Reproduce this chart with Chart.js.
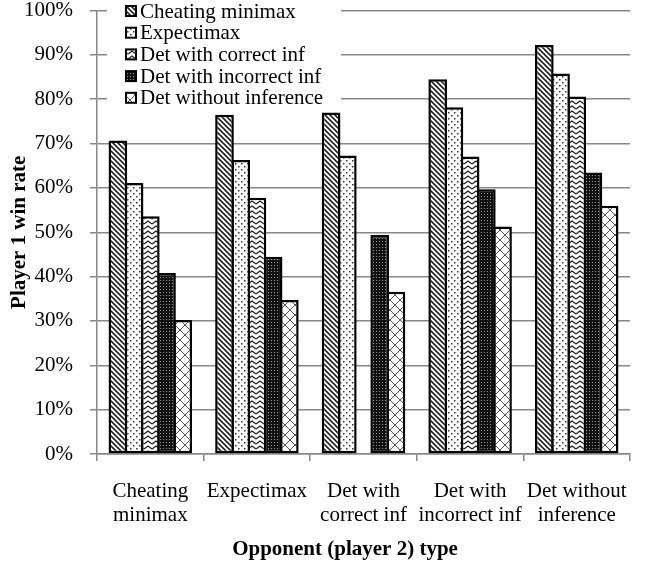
<!DOCTYPE html>
<html lang="en">
<head>
<meta charset="utf-8">
<title>Player 1 win rate</title>
<script src="https://cdn.jsdelivr.net/npm/chart.js@4.4.0/dist/chart.umd.min.js"></script>
<style>
body{margin:0;background:#fff}
canvas{display:block}
</style>
</head>
<body>
<canvas id="chart" width="647" height="563"></canvas>
<script>
/* data */
const opponents = [
  ['Cheating', 'minimax'],
  ['Expectimax'],
  ['Det with', 'correct inf'],
  ['Det with', 'incorrect inf'],
  ['Det without', 'inference']
];
const seriesNames = [
  'Cheating minimax',
  'Expectimax',
  'Det with correct inf',
  'Det with incorrect inf',
  'Det without inference'
];
const cheatingMinimax   = [70.7, 76.5, 77.0, 84.5, 92.2];
const expectimax        = [61.1, 66.3, 67.3, 78.2, 85.8];
const detCorrectInf     = [53.6, 57.8, null, 67.1, 80.6];
const detIncorrectInf   = [40.8, 44.5, 49.4, 59.7, 63.5];
const detWithoutInf     = [30.2, 34.7, 36.6, 51.3, 56.0];
const yTicks = [0,10,20,30,40,50,60,70,80,90,100];
const xTitle = 'Opponent (player 2) type';
const yTitle = 'Player 1 win rate';

const FONT = '"Liberation Serif", "Times New Roman", serif';

/* hatch patterns */
function tile(w,h,fn){
  const c=document.createElement('canvas');c.width=w;c.height=h;
  const g=c.getContext('2d');fn(g,w,h);
  return document.createElement('canvas').getContext('2d').createPattern(c,'repeat');
}
const patDiag = tile(5,5,(g,w,h)=>{
  g.fillStyle='#fff';g.fillRect(0,0,w,h);
  g.strokeStyle='#222';g.lineWidth=1.6;
  g.beginPath();
  g.moveTo(-1,-1);g.lineTo(w+1,h+1);
  g.moveTo(-1,h-1);g.lineTo(1,h+1);
  g.moveTo(w-1,-1);g.lineTo(w+1,1);
  g.stroke();
});
const patDots = tile(6,6,(g,w,h)=>{
  g.fillStyle='#fff';g.fillRect(0,0,w,h);
  g.fillStyle='#333';
  g.fillRect(1,1,1.5,1.5);g.fillRect(4,4,1.5,1.5);
});
const patZig = tile(8,5,(g,w,h)=>{
  g.fillStyle='#fff';g.fillRect(0,0,w,h);
  g.strokeStyle='#222';g.lineWidth=1.4;
  g.beginPath();g.moveTo(0,4);g.lineTo(4,1);g.lineTo(8,4);g.stroke();
});
const patGrid = tile(3,3,(g,w,h)=>{
  g.fillStyle='#111';g.fillRect(0,0,w,h);
  g.fillStyle='#9a9a9a';g.fillRect(1,1,1,1);
});
const patCross = tile(10,10,(g,w,h)=>{
  g.fillStyle='#fff';g.fillRect(0,0,w,h);
  g.strokeStyle='#555';g.lineWidth=1;
  g.beginPath();
  g.moveTo(0,0);g.lineTo(w,h);
  g.moveTo(w,0);g.lineTo(0,h);
  g.stroke();
});
const fills = [patDiag, patDots, patZig, patGrid, patCross];
const values = [cheatingMinimax, expectimax, detCorrectInf, detIncorrectInf, detWithoutInf];

/* legend inside plot (top-left) + x title offset like the original */
const boxLegend = {
  id:'boxLegend',
  afterDraw(chart){
    const ctx=chart.ctx;
    ctx.save();
    ctx.fillStyle='#fff';
    ctx.fillRect(107,0,234,108);
    ctx.font='21px '+FONT;
    ctx.textBaseline='middle';
    chart.data.datasets.forEach((ds,i)=>{
      const y=11+i*21.7;
      ctx.fillStyle=ds.backgroundColor;
      ctx.fillRect(126,y-5,10,10);
      ctx.strokeStyle='#000';ctx.lineWidth=2;
      ctx.strokeRect(126,y-5,10,10);
      ctx.fillStyle='#000';
      ctx.fillText(ds.label,140,y+1);
    });
    // x axis title
    ctx.font='bold 21px '+FONT;
    ctx.textAlign='center';
    ctx.fillText(xTitle,345,550);
    ctx.restore();
  }
};

Chart.defaults.font.family=FONT;
Chart.defaults.color='#000';

new Chart(document.getElementById('chart').getContext('2d'),{
  type:'bar',
  data:{
    labels:opponents,
    datasets:seriesNames.map((name,i)=>({
      label:name,
      data:values[i],
      backgroundColor:fills[i],
      borderColor:'#000',
      borderWidth:2.5,
      borderSkipped:false,
      inflateAmount:0,
      categoryPercentage:0.76,
      barPercentage:1.153
    }))
  },
  options:{
    responsive:false,
    animation:false,
    layout:{padding:{top:0,right:14,left:0,bottom:0}},
    plugins:{legend:{display:false},tooltip:{enabled:false}},
    scales:{
      x:{
        grid:{drawOnChartArea:false,color:'#888',lineWidth:1.5,tickLength:7},
        border:{color:'#888',width:1.5},
        ticks:{font:{size:21,lineHeight:1.12},padding:19,maxRotation:0,autoSkip:false},
        afterFit(s){s.height=109;}
      },
      y:{
        min:0,max:100,
        afterBuildTicks(s){s.ticks=yTicks.map(v=>({value:v}));},
        grid:{color:'#888',lineWidth:1.5,tickLength:7},
        border:{color:'#888',width:1.5},
        ticks:{font:{size:21,lineHeight:1},padding:17,callback:v=>v+'%'},
        title:{display:true,text:yTitle,font:{size:21,weight:'bold'},padding:{top:7,bottom:0}},
        afterFit(s){s.width=97;s.paddingTop=10.5;s.paddingBottom=0;}
      }
    }
  },
  plugins:[boxLegend]
});
</script>
</body>
</html>
